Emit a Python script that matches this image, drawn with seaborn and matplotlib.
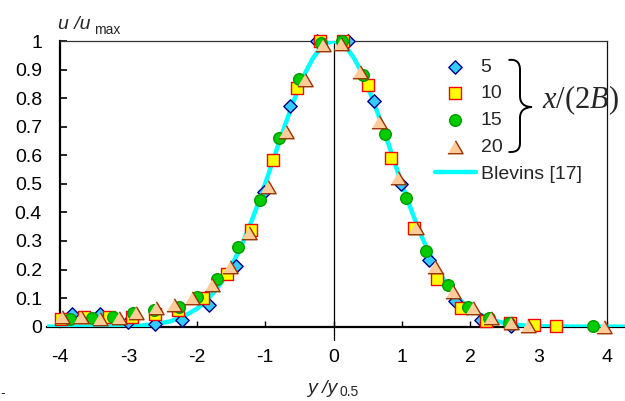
import numpy as np
import pandas as pd
import seaborn as sns
import matplotlib
matplotlib.use("Agg")
import matplotlib.pyplot as plt
from matplotlib.path import Path
from matplotlib.patches import PathPatch
from matplotlib.transforms import Affine2D

# ---------------- data ----------------
x5 = [-3.82, -3.41, -3.01, -2.61, -2.21, -1.82, -1.42, -1.02, -0.63, -0.24,
      0.21, 0.59, 0.99, 1.39, 1.78, 2.15, 2.60]
u5 = [0.045, 0.045, 0.018, 0.010, 0.023, 0.076, 0.214, 0.470, 0.772, 1.000,
      1.000, 0.790, 0.500, 0.233, 0.090, 0.023, 0.003]

x10 = [-3.98, -3.65, -3.28, -2.95, -2.61, -2.27, -1.91, -1.56, -1.21, -0.885,
       -0.535, -0.20, 0.14, 0.50, 0.84, 1.18, 1.52, 1.86, 2.23, 2.58, 2.93, 3.26]
u10 = [0.028, 0.035, 0.035, 0.034, 0.045, 0.058, 0.099, 0.184, 0.338, 0.583,
       0.834, 1.000, 1.000, 0.846, 0.589, 0.344, 0.166, 0.064, 0.020, 0.012,
       0.006, 0.002]

x15 = [-3.85, -3.53, -3.22, -2.93, -2.62, -2.26, -2.00, -1.71, -1.40, -1.08,
       -0.79, -0.50, -0.19, 0.12, 0.43, 0.75, 1.06, 1.35, 1.67, 1.96, 2.27,
       2.56, 3.80]
u15 = [0.026, 0.030, 0.035, 0.047, 0.058, 0.070, 0.105, 0.167, 0.278, 0.445,
       0.659, 0.866, 0.992, 1.000, 0.881, 0.673, 0.449, 0.266, 0.146, 0.070,
       0.029, 0.012, 0.002]

x20 = [-3.97, -3.69, -3.41, -3.14, -2.89, -2.59, -2.33, -2.07, -1.78, -1.52,
       -1.23, -0.96, -0.69, -0.41, -0.16, 0.11, 0.39, 0.67, 0.95, 1.21, 1.48,
       1.75, 2.04, 2.30, 2.59, 2.85, 3.95]
u20 = [0.035, 0.033, 0.026, 0.029, 0.047, 0.064, 0.076, 0.102, 0.146, 0.210,
       0.327, 0.488, 0.683, 0.864, 0.986, 0.990, 0.893, 0.718, 0.519, 0.344,
       0.210, 0.120, 0.064, 0.029, 0.012, 0.002, 0.000]

# Blevins [17] curve
xb = [-4.19, -4.0, -3.5, -3.0, -2.8, -2.6, -2.4, -2.2,
      -2.0, -1.9, -1.8, -1.7, -1.6, -1.5, -1.4, -1.3, -1.2, -1.1,
      -1.0, -0.9, -0.8, -0.7, -0.6, -0.5, -0.4, -0.3, -0.2, -0.1,
      0.0, 0.1, 0.2, 0.3, 0.4, 0.5, 0.6, 0.7, 0.8, 0.9,
      1.0, 1.1, 1.2, 1.3, 1.4, 1.5, 1.6, 1.7, 1.8, 1.9,
      2.0, 2.2, 2.4, 2.6, 2.8, 3.0, 3.5, 4.0, 4.27]
ub = [0.000, 0.000, 0.0002, 0.002, 0.004, 0.009, 0.018, 0.035,
      0.0625, 0.082, 0.106, 0.135, 0.170, 0.210, 0.257, 0.310, 0.369, 0.432,
      0.500, 0.570, 0.642, 0.712, 0.779, 0.841, 0.895, 0.940, 0.973, 0.993,
      1.000, 0.993, 0.973, 0.940, 0.895, 0.841, 0.779, 0.712, 0.642, 0.570,
      0.500, 0.432, 0.369, 0.310, 0.257, 0.210, 0.170, 0.135, 0.106, 0.082,
      0.0625, 0.035, 0.018, 0.009, 0.004, 0.002, 0.0002, 0.000, 0.000]

series_labels = ["5", "10", "15", "20"]
curve_label = "Blevins [17]"
xticks = [-4, -3, -2, -1, 0, 1, 2, 3, 4]
xticklabels = ["-4", "-3", "-2", "-1", "0", "1", "2", "3", "4"]
yticks = [0, 0.1, 0.2, 0.3, 0.4, 0.5, 0.6, 0.7, 0.8, 0.9, 1.0]
yticklabels = ["0", "0.1", "0.2", "0.3", "0.4", "0.5", "0.6", "0.7", "0.8", "0.9", "1"]

# ---------------- style ----------------
sns.set_style("white")
plt.rcParams["font.family"] = ["Liberation Sans", "DejaVu Sans"]
plt.rcParams["mathtext.fontset"] = "custom"
plt.rcParams["mathtext.rm"] = "Liberation Serif"
plt.rcParams["mathtext.it"] = "Liberation Serif:italic"

W, H = 625, 401
fig = plt.figure(figsize=(W / 100, H / 100), dpi=100)
ax = fig.add_axes([47 / W, (H - 326.7) / H, 578 / W, 285.7 / H])

wide_tri = [(-1, -0.82), (1, -0.82), (0, 0.88)]

sns.lineplot(x=xb, y=ub, ax=ax, color="#00FFFF", lw=3.2, label=curve_label,
             zorder=2, sort=False)
sns.scatterplot(x=x5, y=u5, ax=ax, marker="D", s=46, color="#33CCFF",
                edgecolor="#000080", linewidth=1.0, label=series_labels[0],
                clip_on=False, zorder=3)
sns.scatterplot(x=x10, y=u10, ax=ax, marker="s", s=68, color="#FFFF00",
                edgecolor="#FF0000", linewidth=1.0, label=series_labels[1],
                clip_on=False, zorder=4)
sns.scatterplot(x=x15, y=u15, ax=ax, marker="o", s=70, color="#00CC00",
                edgecolor="#009900", linewidth=1.0, label=series_labels[2],
                clip_on=False, zorder=5)
sns.scatterplot(x=x20, y=u20, ax=ax, marker=wide_tri, s=120, color="#FFCC99",
                edgecolor="#993300", linewidth=1.0, label=series_labels[3],
                clip_on=False, zorder=6)

ax.set_xlim(-4.19, 4.263)
ax.set_ylim(0, 1)
ax.set_xlabel("")
ax.set_ylabel("")

# axes lines
ax.spines["left"].set_position(("data", -4))
ax.spines["left"].set_linewidth(1.6)
ax.spines["left"].set_color("black")
ax.spines["bottom"].set_linewidth(1.6)
ax.spines["bottom"].set_color("black")
ax.spines["top"].set_bounds(-4, 4)
ax.spines["top"].set_linewidth(0.9)
ax.spines["top"].set_color("#333333")
ax.spines["right"].set_position(("data", 4))
ax.spines["right"].set_linewidth(0.9)
ax.spines["right"].set_color("#111111")
for s in ax.spines.values():
    s.set_zorder(1)
ax.axvline(0, ymin=-0.047, ymax=1, color="black", lw=0.9, clip_on=False, zorder=1)

ax.set_xticks(xticks)
ax.set_xticklabels(xticklabels)
ax.set_yticks(yticks)
ax.set_yticklabels(yticklabels)
ax.tick_params(axis="y", direction="in", length=5, width=1.2, pad=13,
               labelsize=14, colors="black", left=True)
ax.tick_params(axis="x", direction="in", length=4.5, width=1.0, pad=16,
               labelsize=14, colors="black", bottom=True)

# legend
h, l = ax.get_legend_handles_labels()
order = [l.index(k) for k in series_labels + [curve_label]]
leg = ax.legend([h[i] for i in order], [l[i] for i in order],
                loc="upper left", bbox_to_anchor=(435 / W, (H - 58) / H),
                bbox_transform=fig.transFigure, frameon=False, fontsize=14,
                handlelength=2.1, handletextpad=0.25, labelspacing=0.47,
                borderpad=0, borderaxespad=0, scatterpoints=1)

# axis titles
fig.text(58 / W, (H - 29) / H, "u /u", fontsize=14, style="italic",
         va="baseline", ha="left")
fig.text(94 / W, (H - 34) / H, "max", fontsize=10, va="baseline", ha="left")
fig.text(307 / W, (H - 393) / H, "y /y", fontsize=14, style="italic",
         va="baseline", ha="left")
fig.text(340 / W, (H - 396.5) / H, "0.5", fontsize=10, va="baseline", ha="left")
fig.text(0 / W, (H - 393) / H, "-", fontsize=10, va="center", ha="left")

# brace + x/(2B)
verts = [(508.5, 60), (516, 59), (520, 62), (520, 70),
         (520, 96),
         (520, 103), (524, 107), (532, 107),
         (524, 107.5), (520, 111), (520, 118),
         (520, 143),
         (520, 150), (516, 152.5), (508.5, 152)]
codes = [Path.MOVETO, Path.CURVE4, Path.CURVE4, Path.CURVE4,
         Path.LINETO,
         Path.CURVE4, Path.CURVE4, Path.CURVE4,
         Path.CURVE4, Path.CURVE4, Path.CURVE4,
         Path.LINETO,
         Path.CURVE4, Path.CURVE4, Path.CURVE4]
pix = Affine2D().scale(1, -1).translate(0, H)
brace = PathPatch(Path(verts, codes), facecolor="none", edgecolor="black",
                  lw=1.4, transform=pix)
fig.add_artist(brace)
fig.text(542 / W, (H - 100) / H, r"$x/(2B)$", fontsize=22, va="center", ha="left")

fig.savefig("out.png", dpi=100)
